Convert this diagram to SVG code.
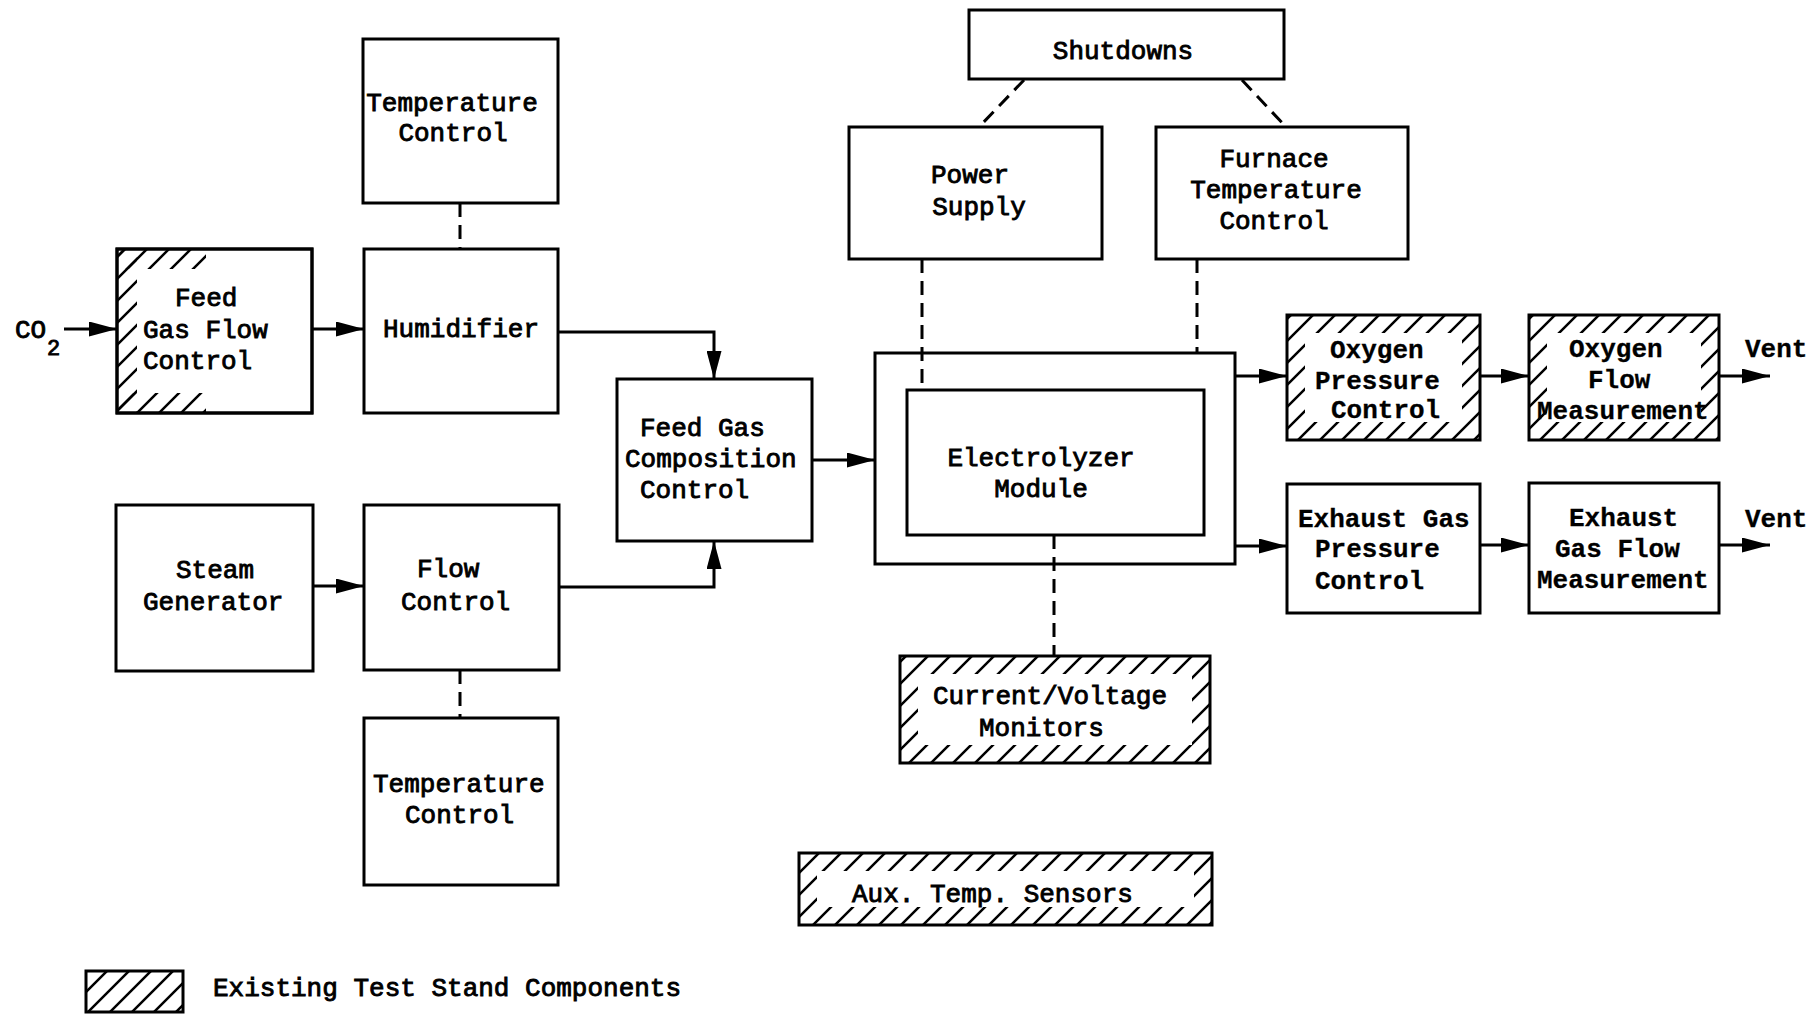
<svg xmlns="http://www.w3.org/2000/svg" width="1816" height="1014" viewBox="0 0 1816 1014">
<style>
.box{fill:#fff;stroke:#000;stroke-width:3}
.ol{fill:none;stroke:#000;stroke-width:3}
.hb{fill:url(#hatch)}
.wh{fill:#fff}
.t{font-family:"Liberation Mono","DejaVu Sans Mono",monospace;font-size:26px;fill:#000;stroke:#000;stroke-width:0.9}
.b{font-weight:bold;stroke-width:0.3}
.c{fill:none;stroke:#000;stroke-width:3}
.d{fill:none;stroke:#000;stroke-width:3;stroke-dasharray:14 8}
</style>
<defs>
<pattern id="hatch" patternUnits="userSpaceOnUse" width="22" height="22">
<path d="M-5.5,5.5 L5.5,-5.5 M0,22 L22,0 M16.5,27.5 L27.5,16.5" stroke="#000" stroke-width="2.5"/>
</pattern>
<marker id="arr" markerUnits="userSpaceOnUse" markerWidth="28" markerHeight="15" refX="28" refY="7.5" orient="auto">
<path d="M0,0 L28,7.5 L0,15 z" fill="#000"/>
</marker>
</defs>
<rect width="1816" height="1014" fill="#fff"/>

<g id="connectors">
<line class="c" x1="64" y1="329" x2="117" y2="329" marker-end="url(#arr)"/>
<line class="c" x1="312" y1="329" x2="364" y2="329" marker-end="url(#arr)"/>
<polyline class="c" points="558,332 714,332 714,379" marker-end="url(#arr)"/>
<line class="c" x1="313" y1="586" x2="364" y2="586" marker-end="url(#arr)"/>
<polyline class="c" points="559,587 714,587 714,541" marker-end="url(#arr)"/>
<line class="c" x1="812" y1="460" x2="875" y2="460" marker-end="url(#arr)"/>
<line class="c" x1="1235" y1="376" x2="1287" y2="376" marker-end="url(#arr)"/>
<line class="c" x1="1235" y1="546" x2="1287" y2="546" marker-end="url(#arr)"/>
<line class="c" x1="1480" y1="376" x2="1529" y2="376" marker-end="url(#arr)"/>
<line class="c" x1="1480" y1="545" x2="1529" y2="545" marker-end="url(#arr)"/>
<line class="c" x1="1719" y1="376" x2="1770" y2="376" marker-end="url(#arr)"/>
<line class="c" x1="1719" y1="545" x2="1770" y2="545" marker-end="url(#arr)"/>
<line class="d" x1="460" y1="203" x2="460" y2="249"/>
<line class="d" x1="460" y1="670" x2="460" y2="718"/>
<line class="d" x1="1024" y1="80" x2="979" y2="127"/>
<line class="d" x1="1242" y1="80" x2="1286" y2="127"/>
<line class="d" x1="922" y1="259" x2="922" y2="390"/>
<line class="d" x1="1197" y1="259" x2="1197" y2="353"/>
<line class="d" x1="1054" y1="535" x2="1054" y2="656"/>
</g>

<g id="co2">
<text class="t" x="15" y="338">CO</text>
<text class="t" x="47" y="355" style="font-size:22px">2</text>
</g>

<g id="temp-top">
<rect class="box" x="363" y="39" width="195" height="164"/>
<text class="t" x="452" y="111" text-anchor="middle">Temperature</text>
<text class="t" x="453" y="141" text-anchor="middle">Control</text>
</g>

<g id="feed-gas-flow">
<rect class="box" x="117" y="249" width="195" height="164"/>
<rect class="hb" x="118" y="250" width="88" height="19"/>
<rect class="hb" x="118" y="250" width="19" height="162"/>
<rect class="hb" x="118" y="393" width="88" height="19"/>
<rect class="ol" x="117" y="249" width="195" height="164"/>
<text class="t" x="175" y="306">Feed</text>
<text class="t" x="143" y="338">Gas Flow</text>
<text class="t" x="143" y="369">Control</text>
</g>

<g id="humidifier">
<rect class="box" x="364" y="249" width="194" height="164"/>
<text class="t" x="383" y="337">Humidifier</text>
</g>

<g id="steam-generator">
<rect class="box" x="116" y="505" width="197" height="166"/>
<text class="t" x="176" y="578">Steam</text>
<text class="t" x="143" y="610">Generator</text>
</g>

<g id="flow-control">
<rect class="box" x="364" y="505" width="195" height="165"/>
<text class="t" x="417" y="577">Flow</text>
<text class="t" x="401" y="610">Control</text>
</g>

<g id="temp-bottom">
<rect class="box" x="364" y="718" width="194" height="167"/>
<text class="t" x="373" y="792">Temperature</text>
<text class="t" x="405" y="823">Control</text>
</g>

<g id="feed-gas-composition">
<rect class="box" x="617" y="379" width="195" height="162"/>
<text class="t" x="640" y="436">Feed Gas</text>
<text class="t" x="625" y="467">Composition</text>
<text class="t" x="640" y="498">Control</text>
</g>

<g id="electrolyzer">
<rect class="ol" x="875" y="353" width="360" height="211"/>
<rect class="box" x="907" y="390" width="297" height="145"/>
<text class="t" x="1041" y="466" text-anchor="middle">Electrolyzer</text>
<text class="t" x="1041" y="497" text-anchor="middle">Module</text>
</g>

<g id="shutdowns">
<rect class="box" x="969" y="10" width="315" height="69"/>
<text class="t" x="1123" y="59" text-anchor="middle">Shutdowns</text>
</g>

<g id="power-supply">
<rect class="box" x="849" y="127" width="253" height="132"/>
<text class="t" x="970" y="183" text-anchor="middle">Power</text>
<text class="t" x="979" y="215" text-anchor="middle">Supply</text>
</g>

<g id="furnace">
<rect class="box" x="1156" y="127" width="252" height="132"/>
<text class="t" x="1274" y="167" text-anchor="middle">Furnace</text>
<text class="t" x="1276" y="198" text-anchor="middle">Temperature</text>
<text class="t" x="1274" y="229" text-anchor="middle">Control</text>
</g>

<g id="oxygen-pressure">
<rect class="hb" x="1287" y="315" width="193" height="125"/>
<rect class="wh" x="1305" y="333" width="157" height="89"/>
<rect class="ol" x="1287" y="315" width="193" height="125"/>
<text class="t b" x="1330" y="358">Oxygen</text>
<text class="t b" x="1315" y="389">Pressure</text>
<text class="t b" x="1331" y="418">Control</text>
</g>

<g id="oxygen-flow">
<rect class="hb" x="1529" y="315" width="190" height="125"/>
<rect class="wh" x="1547" y="333" width="154" height="89"/>
<rect class="ol" x="1529" y="315" width="190" height="125"/>
<text class="t b" x="1569" y="357">Oxygen</text>
<text class="t b" x="1588" y="388">Flow</text>
<text class="t b" x="1537" y="419">Measurement</text>
</g>

<g id="exhaust-pressure">
<rect class="box" x="1287" y="484" width="193" height="129"/>
<text class="t b" x="1298" y="527">Exhaust Gas</text>
<text class="t b" x="1315" y="557">Pressure</text>
<text class="t b" x="1315" y="589">Control</text>
</g>

<g id="exhaust-flow">
<rect class="box" x="1529" y="483" width="190" height="130"/>
<text class="t b" x="1569" y="526">Exhaust</text>
<text class="t b" x="1555" y="557">Gas Flow</text>
<text class="t b" x="1537" y="588">Measurement</text>
</g>

<g id="vent">
<text class="t b" x="1745" y="357">Vent</text>
<text class="t b" x="1745" y="527">Vent</text>
</g>

<g id="current-voltage">
<rect class="hb" x="900" y="656" width="310" height="107"/>
<rect class="wh" x="918" y="674" width="274" height="71"/>
<rect class="ol" x="900" y="656" width="310" height="107"/>
<text class="t" x="933" y="704">Current/Voltage</text>
<text class="t" x="979" y="736">Monitors</text>
</g>

<g id="aux-temp">
<rect class="hb" x="799" y="853" width="413" height="72"/>
<rect class="wh" x="817" y="871" width="377" height="36"/>
<rect class="ol" x="799" y="853" width="413" height="72"/>
<text class="t" x="852" y="902">Aux. Temp. Sensors</text>
</g>

<g id="legend">
<rect class="hb" x="86" y="971" width="97" height="41"/>
<rect class="ol" x="86" y="971" width="97" height="41"/>
<text class="t" x="213" y="996">Existing Test Stand Components</text>
</g>
</svg>
